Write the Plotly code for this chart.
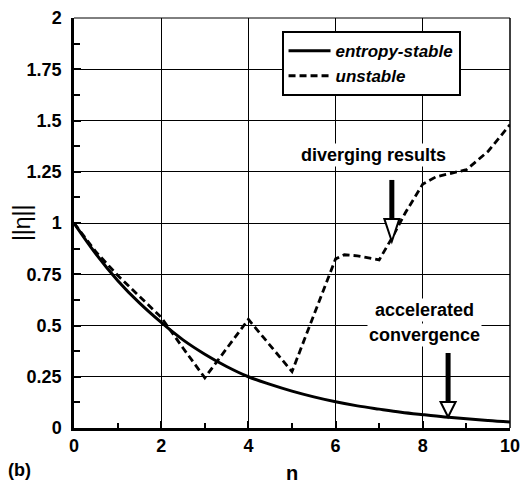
import plotly.graph_objects as go

# ---- data ----
n_stable = [0, 0.5, 1, 1.5, 2, 2.5, 3, 3.5, 4, 4.5, 5, 5.5, 6, 6.5, 7, 7.5, 8, 8.5, 9, 9.5, 10]
eta_stable = [1.0, 0.85, 0.72, 0.61, 0.515, 0.43, 0.36, 0.30, 0.25, 0.213, 0.18, 0.152, 0.128,
              0.108, 0.092, 0.077, 0.065, 0.054, 0.045, 0.036, 0.029]

n_unstable = [0, 0.5, 1, 1.5, 2, 2.5, 3, 4, 5, 5.5, 6, 6.2, 6.5, 7, 7.3, 7.6, 8, 8.3, 8.7, 9, 9.5, 10]
eta_unstable = [1.0, 0.86, 0.745, 0.64, 0.54, 0.39, 0.245, 0.53, 0.275, 0.55, 0.825, 0.845, 0.84,
                0.82, 0.93, 1.05, 1.19, 1.225, 1.245, 1.26, 1.35, 1.48]

x_ticks = [0, 2, 4, 6, 8, 10]
x_ticklabels = ["0", "2", "4", "6", "8", "10"]
y_ticks = [0, 0.25, 0.5, 0.75, 1, 1.25, 1.5, 1.75, 2]
y_ticklabels = ["0", "0.25", "0.5", "0.75", "1", "1.25", "1.5", "1.75", "2"]

FONT = "Liberation Sans, Arial, sans-serif"

fig = go.Figure()
fig.add_trace(go.Scatter(x=n_stable, y=eta_stable, mode="lines", name="<b><i>entropy-stable</i></b>",
                         line=dict(color="black", width=3, shape="spline")))
fig.add_trace(go.Scatter(x=n_unstable, y=eta_unstable, mode="lines", name="<b><i>unstable</i></b>",
                         line=dict(color="black", width=2.8, dash="7px,4px")))

axis_common = dict(
    showgrid=True, gridcolor="black", gridwidth=1,
    showline=True, linecolor="black", linewidth=2.5,
    ticks="inside", ticklen=7, tickwidth=1.5, tickcolor="black",
    zeroline=False, automargin=False,
    tickfont=dict(family=FONT, size=18, color="black", weight="bold"),
)

fig.update_xaxes(range=[0, 10], tickvals=x_ticks, ticktext=x_ticklabels,
                 minor=dict(dtick=1, ticks="inside", ticklen=5, tickcolor="black", showgrid=False),
                 **axis_common)
fig.update_yaxes(range=[0, 2], tickvals=y_ticks, ticktext=y_ticklabels,
                 ticklabelstandoff=6,
                 minor=dict(dtick=0.125, ticks="inside", ticklen=6, tickcolor="black", showgrid=False),
                 **axis_common)

shapes = [
    # thin top and right frame
    dict(type="line", xref="paper", yref="paper", x0=0, x1=1, y0=1, y1=1, line=dict(color="black", width=1)),
    dict(type="line", xref="paper", yref="paper", x0=1, x1=1, y0=0, y1=1, line=dict(color="black", width=1.5)),
    # diverging arrow
    dict(type="line", xref="x", yref="y", x0=7.29, x1=7.29, y0=1.21, y1=1.02, line=dict(color="black", width=5)),
    dict(type="path", xref="x", yref="y", path="M 7.118,1.02 L 7.462,1.02 L 7.29,0.91 Z",
         fillcolor="white", line=dict(color="black", width=2)),
    # accelerated arrow
    dict(type="line", xref="x", yref="y", x0=8.58, x1=8.58, y0=0.366, y1=0.127, line=dict(color="black", width=5)),
    dict(type="path", xref="x", yref="y", path="M 8.408,0.127 L 8.752,0.127 L 8.58,0.054 Z",
         fillcolor="white", line=dict(color="black", width=2)),
]

ann_font = dict(family=FONT, size=18, color="black")
annotations = [
    dict(x=6.88, y=1.332, xref="x", yref="y", text="<b>diverging results</b>", showarrow=False,
         font=ann_font, bgcolor="white"),
    dict(x=8.05, y=0.576, xref="x", yref="y", text="<b>accelerated</b>", showarrow=False,
         font=ann_font, bgcolor="white"),
    dict(x=8.05, y=0.454, xref="x", yref="y", text="<b>convergence</b>", showarrow=False,
         font=ann_font, bgcolor="white"),
    dict(x=-0.119, y=0.5, xref="paper", yref="paper", text="||η||", textangle=-90, showarrow=False,
         xanchor="center", yanchor="middle",
         font=dict(family=FONT, size=23, color="black")),
    dict(x=0.5, y=-0.11, xref="paper", yref="paper", text="<b>n</b>", showarrow=False,
         xanchor="center", yanchor="middle",
         font=dict(family=FONT, size=20, color="black")),
    dict(x=-0.124, y=-0.102, xref="paper", yref="paper", text="<b>(b)</b>", showarrow=False,
         xanchor="center", yanchor="middle",
         font=dict(family=FONT, size=18, color="black")),
]

fig.update_layout(
    width=523, height=487,
    margin=dict(l=74, r=13, t=18, b=59, autoexpand=False),
    plot_bgcolor="white", paper_bgcolor="white",
    showlegend=True,
    legend=dict(x=0.476, y=0.968, xanchor="left", yanchor="top",
                bordercolor="black", borderwidth=2, bgcolor="white",
                font=dict(family=FONT, size=17, color="black"),
                tracegroupgap=0, itemwidth=42),
    shapes=shapes, annotations=annotations,
    font=dict(family=FONT, color="black"),
)

fig.write_html("out.html", config={"displayModeBar": False},
               post_script="document.body.style.margin='0';document.body.style.overflow='hidden';")
